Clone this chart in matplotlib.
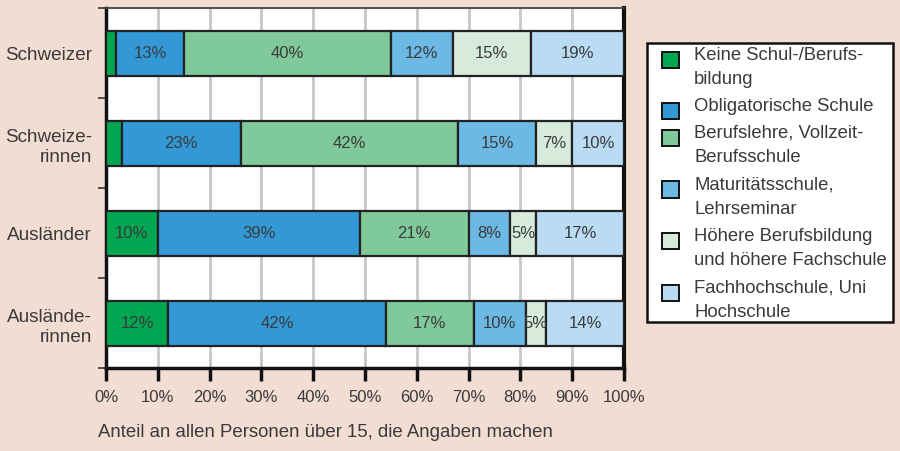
import numpy as np
import matplotlib
matplotlib.use("Agg")
import matplotlib.pyplot as plt
from matplotlib.patches import Rectangle

plt.rcParams['font.family'] = ['Liberation Sans', 'DejaVu Sans']

# ---------------- data ----------------
categories = ["Schweizer", "Schweize-\nrinnen", "Ausländer", "Auslände-\nrinnen"]
series_names = [
    "Keine Schul-/Berufs-\nbildung",
    "Obligatorische Schule",
    "Berufslehre, Vollzeit-\nBerufsschule",
    "Maturitätsschule,\nLehrseminar",
    "Höhere Berufsbildung\nund höhere Fachschule",
    "Fachhochschule, Uni\nHochschule",
]
# segment widths (percent) per series, order = categories
keine = [2, 3, 10, 12]
obligatorisch = [13, 23, 39, 42]
berufslehre = [40, 42, 21, 17]
maturitaet = [12, 15, 8, 10]
hoehere = [15, 7, 5, 4]
hochschule = [18, 10, 17, 15]
# printed labels per series
keine_lbl = ["", "", "10%", "12%"]
obligatorisch_lbl = ["13%", "23%", "39%", "42%"]
berufslehre_lbl = ["40%", "42%", "21%", "17%"]
maturitaet_lbl = ["12%", "15%", "8%", "10%"]
hoehere_lbl = ["15%", "7%", "5%", "5%"]
hochschule_lbl = ["19%", "10%", "17%", "14%"]
x_ticks = [0, 10, 20, 30, 40, 50, 60, 70, 80, 90, 100]
x_ticklabels = [f"{t}%" for t in x_ticks]
footer = "Anteil an allen Personen über 15, die Angaben machen"

series = [keine, obligatorisch, berufslehre, maturitaet, hoehere, hochschule]
labels = [keine_lbl, obligatorisch_lbl, berufslehre_lbl, maturitaet_lbl, hoehere_lbl, hochschule_lbl]
colors = ["#00a651", "#3399d6", "#80c99b", "#6cb9e6", "#d6ebdc", "#b9dbf3"]

BG = "#f2ddd3"
TXT = "#3a3a3a"
W, H = 900, 452

fig = plt.figure(figsize=(9, 4.52), dpi=100, facecolor=BG)
ax = fig.add_axes([106 / W, 1 - 369 / H, (624 - 106) / W, (369 - 9) / H])
ax.set_facecolor("white")

y = np.arange(len(categories))
left = np.zeros(len(categories))
for vals, lbls, col in zip(series, labels, colors):
    vals = np.array(vals, dtype=float)
    ax.barh(y, vals, left=left, height=0.5, color=col, edgecolor="#222222",
            linewidth=1.6, zorder=3)
    for yi, (l, v, t) in enumerate(zip(left, vals, lbls)):
        if t:
            ax.text(l + v / 2, yi, t, ha="center", va="center", fontsize=12,
                    color=TXT, zorder=4)
    left += vals

ax.set_xlim(0, 100)
ax.set_ylim(len(categories) - 0.5, -0.5)
ax.set_xticks(x_ticks)
ax.set_xticklabels(x_ticklabels, fontsize=12, color=TXT)
ax.set_yticks(y)
ax.set_yticklabels(categories, fontsize=13.6, color=TXT, ha="right")
ax.set_yticks(np.arange(-0.5, len(categories), 1.0), minor=True)
ax.tick_params(axis="y", which="major", length=0, pad=10)
ax.tick_params(axis="y", which="minor", length=6, width=1.2, color="#333333")
ax.tick_params(axis="x", which="major", length=9, width=2.5, color="#111111", pad=6)

ax.grid(axis="x", color="#c8c8cc", linewidth=2, zorder=0)
ax.set_axisbelow(True)

for s in ["left", "bottom"]:
    ax.spines[s].set_linewidth(2.5)
    ax.spines[s].set_color("#111111")
ax.spines["right"].set_linewidth(3)
ax.spines["right"].set_color("#111111")
ax.spines["top"].set_linewidth(1.3)
ax.spines["top"].set_color("#444444")

# ---------------- legend (manual, multi-line entries) ----------------
def fx(px):
    return px / W

def fy(py):
    return 1 - py / H

fig.add_artist(Rectangle((fx(647), fy(323)), fx(893) - fx(647), fy(44) - fy(323),
                         transform=fig.transFigure, facecolor="white",
                         edgecolor="#111111", linewidth=1.8, zorder=5))
line_y = 55.0
for name, col in zip(series_names, colors):
    fig.add_artist(Rectangle((fx(662), fy(line_y + 13.5)), fx(17), 16 / H,
                             transform=fig.transFigure, facecolor=col,
                             edgecolor="#111111", linewidth=1.4, zorder=6))
    for j, part in enumerate(name.split("\n")):
        fig.text(fx(694), fy(line_y), part, fontsize=13.3, color=TXT,
                 ha="left", va="center", zorder=7)
        line_y += 24.5
    line_y += 2.5

fig.text(fx(98), fy(433), footer, fontsize=13.4, color=TXT, ha="left", va="center")

fig.savefig("out.png", dpi=100, facecolor=BG)
